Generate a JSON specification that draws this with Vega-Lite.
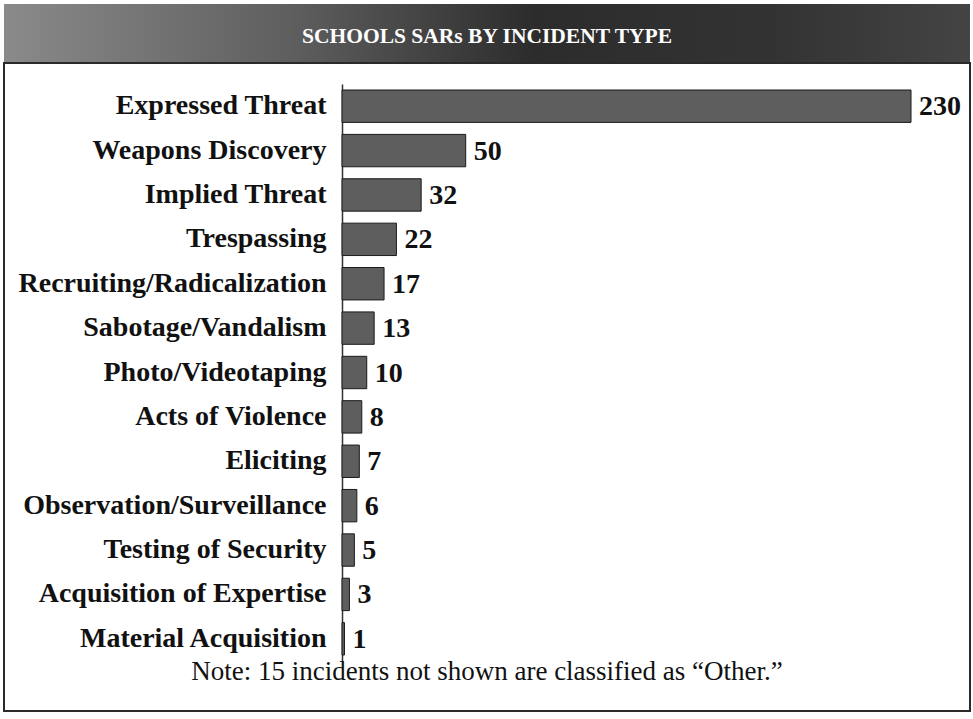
{
  "$schema": "https://vega.github.io/schema/vega-lite/v6.json",
  "padding": {"left": 3, "top": 4, "right": 0, "bottom": 0},
  "background": "white",
  "spacing": 0,
  "config": {"view": {"stroke": null}, "font": "Liberation Serif"},
  "vconcat": [
    {
      "width": 966,
      "height": 58,
      "view": {
        "fill": {"gradient": "linear", "x1": 0, "x2": 1, "y1": 0, "y2": 0,
          "stops": [{"offset": 0, "color": "#8a8a8a"}, {"offset": 0.3, "color": "#5e5e5e"}, {"offset": 0.55, "color": "#2c2c2c"}, {"offset": 0.8, "color": "#333333"}, {"offset": 1, "color": "#444444"}]},
        "stroke": null
      },
      "data": {"values": [{"title": "SCHOOLS SARs BY INCIDENT TYPE"}]},
      "mark": {"type": "text", "font": "Liberation Serif", "fontWeight": "bold", "fontSize": 21.5, "color": "white", "dx": 0, "dy": 4, "baseline": "middle", "align": "center"},
      "encoding": {"text": {"field": "title", "type": "nominal"}}
    },
    {
      "width": 966,
      "height": 648,
      "view": {"stroke": "#2a2a2a", "strokeWidth": 2, "fill": "white"},
      "title": {"text": "Note: 15 incidents not shown are classified as \u201cOther.\u201d", "orient": "bottom", "offset": -52, "anchor": "middle", "frame": "group", "font": "Liberation Serif", "fontWeight": "normal", "fontSize": 27, "color": "#111111", "baseline": "top"},
      "data": {"values": [
        {"type": "Expressed Threat", "count": 230},
        {"type": "Weapons Discovery", "count": 50},
        {"type": "Implied Threat", "count": 32},
        {"type": "Trespassing", "count": 22},
        {"type": "Recruiting/Radicalization", "count": 17},
        {"type": "Sabotage/Vandalism", "count": 13},
        {"type": "Photo/Videotaping", "count": 10},
        {"type": "Acts of Violence", "count": 8},
        {"type": "Eliciting", "count": 7},
        {"type": "Observation/Surveillance", "count": 6},
        {"type": "Testing of Security", "count": 5},
        {"type": "Acquisition of Expertise", "count": 3},
        {"type": "Material Acquisition", "count": 1}
      ]},
      "encoding": {
        "y": {"field": "type", "type": "nominal", "sort": null,
          "scale": {"range": [21, 598], "paddingInner": 0.27, "paddingOuter": 0.135},
          "axis": {"title": null, "offset": -338, "ticks": false, "labelPadding": 16, "domain": true, "domainColor": "#333333", "domainWidth": 1.5, "labelFont": "Liberation Serif", "labelFontWeight": "bold", "labelFontSize": 28, "labelColor": "#111111", "labelLimit": 400, "grid": false}},
        "x": {"field": "count", "type": "quantitative",
          "scale": {"domain": [0, 230], "range": [338, 907], "nice": false},
          "axis": null}
      },
      "layer": [
        {"mark": {"type": "bar", "fill": "#5e5e5e", "stroke": "#1a1a1a", "strokeWidth": 1}},
        {"mark": {"type": "text", "align": "left", "baseline": "middle", "dx": 8, "dy": 1, "font": "Liberation Serif", "fontWeight": "bold", "fontSize": 28, "color": "#111111"},
         "encoding": {"text": {"field": "count", "type": "quantitative"}}}
      ]
    }
  ]
}
